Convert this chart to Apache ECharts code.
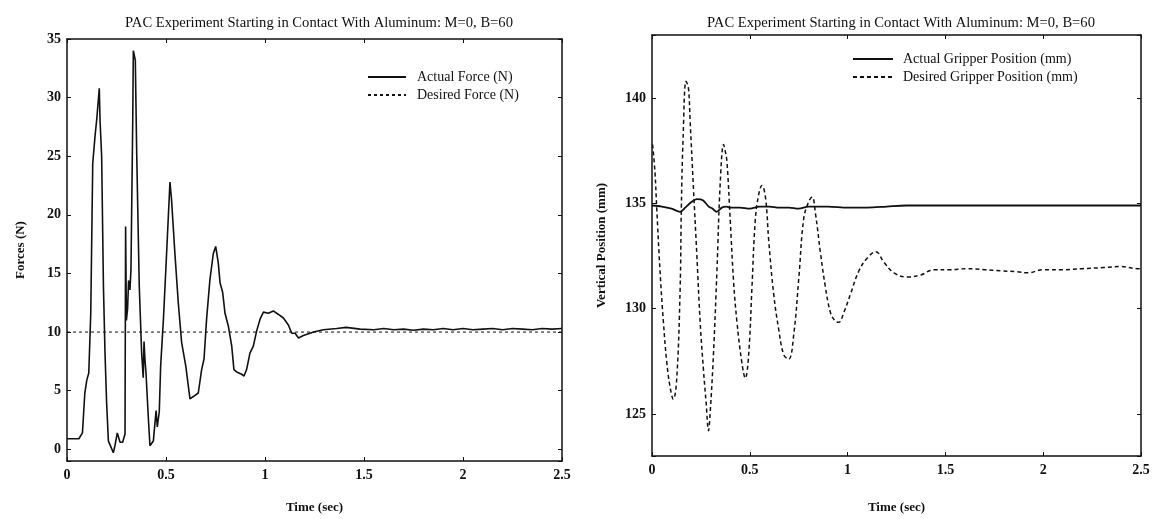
<!DOCTYPE html>
<html>
<head>
<meta charset="utf-8">
<script src="https://cdn.jsdelivr.net/npm/echarts@6/dist/echarts.min.js"></script>
<style>
html,body{margin:0;padding:0;background:#fff;}
#chart{width:1158px;height:519px;}
</style>
</head>
<body>
<div id="chart"></div>
<script>
// ---- Data ----
const chartTitle = 'PAC Experiment Starting in Contact With Aluminum: M=0, B=60';
const xTickLabels = ['0', '0.5', '1', '1.5', '2', '2.5'];

// Left panel: forces
const forceTime = [0,0.06,0.078,0.09,0.1,0.11,0.12,0.13,0.142,0.15,0.163,0.167,0.175,0.184,0.192,0.2,0.209,0.217,0.234,0.242,0.254,0.268,0.281,0.293,0.296,0.3,0.306,0.311,0.318,0.323,0.332,0.335,0.345,0.352,0.365,0.377,0.385,0.389,0.394,0.399,0.411,0.419,0.436,0.45,0.456,0.466,0.473,0.487,0.503,0.52,0.528,0.545,0.562,0.579,0.6,0.621,0.638,0.663,0.68,0.692,0.705,0.722,0.739,0.751,0.764,0.773,0.786,0.798,0.815,0.832,0.843,0.857,0.882,0.894,0.907,0.924,0.941,0.958,0.975,0.992,1.017,1.042,1.068,1.093,1.118,1.135,1.152,1.169,1.194,1.245,1.295,1.362,1.41,1.48,1.55,1.6,1.65,1.7,1.75,1.8,1.85,1.9,1.95,2.0,2.05,2.1,2.15,2.2,2.25,2.3,2.35,2.4,2.45,2.5];
const forceActual = [0.9,0.9,1.4,4.8,5.9,6.5,11.6,24.4,26.8,28.1,30.8,28,25,13.9,8.2,4.0,0.7,0.4,-0.3,0.3,1.4,0.6,0.6,1.3,19,11,12,14.4,13.6,15.3,28,34,33.2,25.3,13.9,8.2,6.1,9.2,7.6,6.5,2.6,0.3,0.7,3.3,1.9,3.2,7.1,11.1,16.7,22.8,21.3,16.7,12.5,9.1,7.1,4.3,4.5,4.8,6.8,7.7,11.1,14.5,16.7,17.3,15.9,14.2,13.4,11.6,10.5,8.8,6.8,6.6,6.4,6.25,6.8,8.2,8.8,10.1,11.1,11.7,11.6,11.8,11.5,11.2,10.6,9.9,9.9,9.5,9.7,10.0,10.2,10.3,10.4,10.25,10.2,10.3,10.2,10.25,10.15,10.25,10.2,10.3,10.2,10.3,10.2,10.25,10.3,10.2,10.3,10.25,10.2,10.3,10.25,10.3];
const desiredForceTime = [0, 2.5];
const desiredForce = [10, 10];

// Right panel: vertical gripper position
const posActualTime = [0,0.05,0.1,0.144,0.17,0.2,0.23,0.26,0.29,0.31,0.33,0.357,0.38,0.4,0.45,0.5,0.55,0.6,0.65,0.7,0.75,0.8,0.9,1.0,1.1,1.2,1.3,1.5,2.0,2.5];
const posActual = [134.9,134.85,134.75,134.6,134.8,135.05,135.2,135.15,134.85,134.75,134.6,134.8,134.85,134.8,134.8,134.75,134.85,134.85,134.8,134.8,134.75,134.85,134.85,134.8,134.8,134.85,134.9,134.9,134.9,134.9];
const posDesiredTime = [0.003,0.015,0.024,0.041,0.058,0.075,0.092,0.109,0.126,0.144,0.15,0.159,0.174,0.186,0.195,0.212,0.229,0.246,0.263,0.277,0.289,0.297,0.314,0.332,0.349,0.366,0.374,0.383,0.4,0.417,0.434,0.46,0.477,0.494,0.511,0.528,0.545,0.562,0.58,0.597,0.622,0.648,0.674,0.699,0.725,0.751,0.776,0.802,0.819,0.836,0.862,0.887,0.913,0.938,0.955,0.98,1.015,1.058,1.1,1.144,1.186,1.237,1.306,1.374,1.441,1.52,1.61,1.7,1.78,1.868,1.92,2.0,2.1,2.2,2.31,2.4,2.48,2.5];
const posDesired = [137.8,136.5,134.8,131.8,129.4,127.5,126.3,125.7,126.6,131,134.8,138.1,140.8,140.5,138.9,135.7,132.6,129.4,127.1,125.5,124.2,125.0,127.8,131.8,136.0,137.8,137.5,137.0,134.2,131.3,129.4,127.4,126.7,127.8,131,134.2,135.4,135.85,135.3,133.2,130.7,129.0,127.8,127.6,128.8,131.5,134.3,135.1,135.3,134.5,132.6,131.0,129.8,129.4,129.35,129.8,130.7,131.8,132.4,132.7,132.2,131.7,131.5,131.6,131.85,131.85,131.9,131.85,131.8,131.75,131.7,131.85,131.85,131.9,131.95,132.0,131.9,131.9];

// ---- Build ----
const zip = (a, b) => a.map((v, i) => [v, b[i]]);
const font = 'Liberation Serif, Times New Roman, serif';
const black = '#111';

function xAx(grid, pos, show) {
  return {
    type: 'value', gridIndex: grid, position: pos, min: 0, max: 2.5, interval: 0.5,
    axisLine: {show: true, onZero: false, lineStyle: {color: black, width: 1.5}},
    axisTick: {show: true, inside: true, length: 4, lineStyle: {color: black, width: 1}},
    axisLabel: {show: show, margin: 7, color: black, fontFamily: font, fontSize: 14, fontWeight: 'bold',
      formatter: v => xTickLabels[Math.round(v / 0.5)] || ''},
    splitLine: {show: false},
    name: show ? 'Time (sec)' : '', nameLocation: 'middle', nameGap: grid === 0 ? 40 : 45,
    nameTextStyle: {color: black, fontFamily: font, fontSize: 13, fontWeight: 'bold'}
  };
}
function yAx(grid, pos, show, min, max, split, name, gap) {
  return {
    type: 'value', gridIndex: grid, position: pos, min: min, max: max, splitNumber: split,
    axisLine: {show: true, onZero: false, lineStyle: {color: black, width: 1.5}},
    axisTick: {show: true, inside: true, length: 4, lineStyle: {color: black, width: 1}},
    axisLabel: {show: show, margin: 6, color: black, fontFamily: font, fontSize: 14, fontWeight: 'bold',
      formatter: v => (Math.abs(v % 5) < 1e-9 ? String(v) : '')},
    splitLine: {show: false},
    name: show ? name : '', nameLocation: 'middle', nameGap: gap, nameRotate: 90,
    nameTextStyle: {color: black, fontFamily: font, fontSize: 13, fontWeight: 'bold'}
  };
}

const chart = echarts.init(document.getElementById('chart'), null, {renderer: 'canvas'});
chart.setOption({
  backgroundColor: '#fff',
  animation: false,
  title: [
    {text: chartTitle, left: 314, top: 11, textAlign: 'center',
     textStyle: {fontFamily: font, fontSize: 14.6, fontWeight: 'normal', color: black}},
    {text: chartTitle, left: 896, top: 11, textAlign: 'center',
     textStyle: {fontFamily: font, fontSize: 14.6, fontWeight: 'normal', color: black}}
  ],
  legend: [
    {data: ['Actual Force (N)', 'Desired Force (N)'], orient: 'vertical', left: 362, top: 65,
     itemWidth: 38, itemHeight: 14, itemGap: 4, itemStyle: {opacity: 0},
     textStyle: {fontFamily: font, fontSize: 14, color: black, padding: [0, 0, 0, 6]}},
    {data: ['Actual Gripper Position (mm)', 'Desired Gripper Position (mm)'], orient: 'vertical', left: 847, top: 47,
     itemWidth: 40, itemHeight: 14, itemGap: 4, itemStyle: {opacity: 0},
     textStyle: {fontFamily: font, fontSize: 14, color: black, padding: [0, 0, 0, 5]}}
  ],
  grid: [
    {left: 67, right: 1158 - 562, top: 39, bottom: 519 - 462},
    {left: 652, right: 1158 - 1141, top: 35, bottom: 519 - 457}
  ],
  xAxis: [xAx(0, 'bottom', true), xAx(0, 'top', false), xAx(1, 'bottom', true), xAx(1, 'top', false)],
  yAxis: [
    yAx(0, 'left', true, -1, 35, 7, 'Forces (N)', 40),
    yAx(0, 'right', false, -1, 35, 7, '', 0),
    yAx(1, 'left', true, 123, 143, 4, 'Vertical Position (mm)', 44),
    yAx(1, 'right', false, 123, 143, 4, '', 0)
  ],
  series: [
    {name: 'Actual Force (N)', type: 'line', xAxisIndex: 0, yAxisIndex: 0, data: zip(forceTime, forceActual),
     showSymbol: false, symbol: 'none', lineStyle: {color: black, width: 1.6}, itemStyle: {color: black}},
    {name: 'Desired Force (N)', type: 'line', xAxisIndex: 0, yAxisIndex: 0, data: zip(desiredForceTime, desiredForce),
     showSymbol: false, symbol: 'none', lineStyle: {color: black, width: 1, type: [3, 3]}, itemStyle: {color: black}},
    {name: 'Actual Gripper Position (mm)', type: 'line', xAxisIndex: 2, yAxisIndex: 2, data: zip(posActualTime, posActual),
     showSymbol: false, symbol: 'none', smooth: 0.3, lineStyle: {color: black, width: 1.8}, itemStyle: {color: black}},
    {name: 'Desired Gripper Position (mm)', type: 'line', xAxisIndex: 2, yAxisIndex: 2, data: zip(posDesiredTime, posDesired),
     showSymbol: false, symbol: 'none', smooth: 0.4, lineStyle: {color: black, width: 1.5, type: [4, 3]}, itemStyle: {color: black}}
  ]
});
</script>
</body>
</html>
